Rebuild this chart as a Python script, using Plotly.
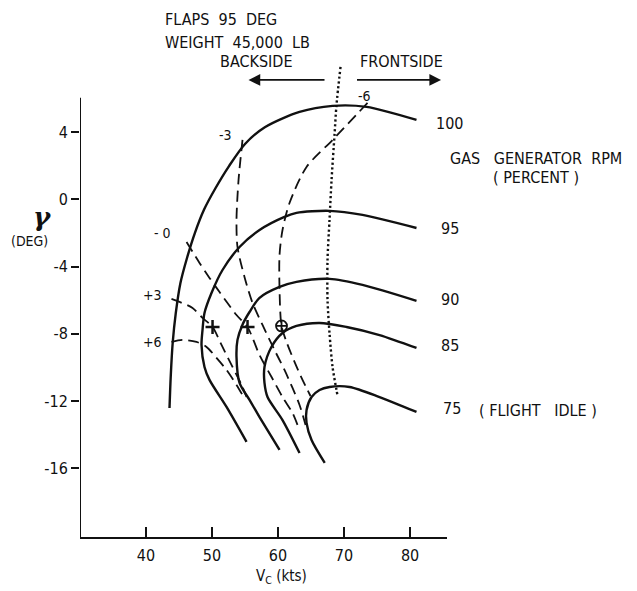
import plotly.graph_objects as go

# ---- data (Vc in kts, gamma in deg) ----
rpm100_v = [43.56, 43.75, 44.05, 44.5, 45.2, 46.2, 47.4, 48.8, 50.5, 52.6, 55.0, 58.0, 63.26, 68.26, 73.41, 80.98]
rpm100_g = [-12.41, -10.5, -8.5, -6.8, -5.0, -3.5, -2.0, -0.6, 0.65, 2.0, 3.3, 4.3, 5.21, 5.57, 5.51, 4.73]

rpm95_v = [55.23, 52.2, 49.62, 48.86, 48.41, 48.56, 48.86, 49.92, 51.59, 54.17, 57.2, 60.98, 62.8, 67.8, 72.8, 80.98]
rpm95_g = [-14.43, -12.35, -10.74, -9.97, -8.66, -7.77, -6.76, -5.57, -4.2, -2.83, -1.82, -1.04, -0.8, -0.68, -0.92, -1.7]

rpm90_v = [60.23, 57.2, 55.68, 54.17, 53.71, 53.86, 54.6, 55.68, 57.2, 60.23, 62.8, 67.8, 72.8, 80.98]
rpm90_g = [-14.91, -12.95, -11.93, -10.92, -9.38, -8.36, -7.47, -6.7, -5.86, -5.21, -4.91, -4.73, -5.09, -6.04]

rpm85_v = [63.26, 60.68, 58.41, 57.95, 57.95, 59.0, 60.68, 62.8, 66.29, 70.38, 75.38, 80.98]
rpm85_g = [-15.09, -13.13, -11.76, -10.92, -9.97, -8.78, -7.95, -7.53, -7.35, -7.59, -8.07, -8.84]

rpm75_v = [67.08, 65.08, 64.32, 64.32, 65.08, 66.29, 67.8, 70.83, 75.38, 80.98]
rpm75_g = [-15.68, -14.32, -13.3, -12.53, -11.76, -11.34, -11.16, -11.16, -11.76, -12.65]

boundary_v = [69.47, 68.86, 68.56, 68.11, 67.8, 67.5, 67.5, 67.8, 68.26, 68.86, 69.0]
boundary_g = [7.89, 5.63, 3.84, 1.16, -1.22, -3.6, -5.98, -7.95, -9.97, -11.34, -11.64]

dm6_v = [73.56, 68.26, 64.32, 61.74, 60.68, 60.23, 60.23, 60.53, 61.29, 62.5, 63.71, 64.92]
dm6_g = [5.74, 3.54, 1.93, -0.21, -1.82, -3.30, -5.39, -7.53, -8.48, -9.67, -10.74, -11.70]

dm3_v = [54.62, 54.02, 53.71, 53.86, 54.92, 56.14, 57.65, 59.47, 60.98, 62.2, 63.26, 64.17]
dm3_g = [3.54, 1.16, -1.22, -2.83, -4.61, -6.16, -7.47, -8.96, -10.15, -11.22, -12.23, -13.42]

d0_v = [46.14, 48.11, 49.62, 51.14, 53.71, 55.38, 57.2, 59.02, 60.68, 62.2, 62.95]
d0_g = [-2.53, -3.78, -4.67, -5.51, -6.88, -7.6, -9.26, -10.57, -11.76, -12.71, -13.42]

dp3_v = [43.86, 45.08, 47.05, 48.56, 50.08, 51.44, 52.95, 54.47, 55.23]
dp3_g = [-5.92, -6.10, -6.46, -7.05, -7.59, -8.66, -9.85, -11.04, -11.76]

dp6_v = [43.86, 45.53, 47.65, 49.17, 50.68, 52.2, 53.71, 54.62]
dp6_g = [-8.48, -8.36, -8.48, -8.78, -9.43, -10.15, -11.04, -11.64]

plus_v = [50.08, 55.38]
plus_g = [-7.59, -7.59]
oplus_v = [60.53]
oplus_g = [-7.53]

x_ticks = [40, 50, 60, 70, 80]
y_ticks = [4, 0, -4, -8, -12, -16]
y_tick_text = ["4", "0", "-4", "-8", "-12", "-16"]

FONT = "Liberation Sans Narrow, DejaVu Sans Condensed, Arial Narrow, sans-serif"
BLACK = "#111111"
SP = "\u00a0"

# page body has an 8px margin; compensate so the plot area lands where the reference has it
W, H = 629, 583
ML, MT = 72, 57
PX0, PX1, PY0, PY1 = 80, 447, 65, 537   # plot area in the reference, pixels


def P(px, py):
    return (px - PX0) / (PX1 - PX0), (PY1 - py) / (PY1 - PY0)


fig = go.Figure()

for v, g in [(rpm100_v, rpm100_g), (rpm95_v, rpm95_g), (rpm90_v, rpm90_g),
             (rpm85_v, rpm85_g), (rpm75_v, rpm75_g)]:
    fig.add_trace(go.Scatter(x=v, y=g, mode="lines",
                             line=dict(color=BLACK, width=2.4, shape="spline", smoothing=0.8),
                             showlegend=False, hoverinfo="skip"))

for v, g in [(dm6_v, dm6_g), (dm3_v, dm3_g), (d0_v, d0_g), (dp3_v, dp3_g), (dp6_v, dp6_g)]:
    fig.add_trace(go.Scatter(x=v, y=g, mode="lines",
                             line=dict(color=BLACK, width=1.8, dash="11px,6px", shape="spline", smoothing=0.8),
                             showlegend=False, hoverinfo="skip"))

fig.add_trace(go.Scatter(x=boundary_v, y=boundary_g, mode="lines",
                         line=dict(color=BLACK, width=2.4, dash="2.2px,2.6px", shape="spline", smoothing=0.8),
                         showlegend=False, hoverinfo="skip"))

fig.add_trace(go.Scatter(x=plus_v, y=plus_g, mode="markers",
                         marker=dict(symbol="cross-thin-open", size=10, color=BLACK,
                                     line=dict(color=BLACK, width=2.5)),
                         showlegend=False, hoverinfo="skip", cliponaxis=False))
fig.add_trace(go.Scatter(x=oplus_v, y=oplus_g, mode="markers",
                         marker=dict(symbol="circle-cross-open", size=11, color=BLACK,
                                     line=dict(color=BLACK, width=1.8)),
                         showlegend=False, hoverinfo="skip", cliponaxis=False))

X0, X1 = 30, 85.6
Y0, Y1 = -20.09, 8.0

# left axis line (stops at the top of the tick span)
fig.add_shape(type="line", x0=X0, x1=X0, y0=Y0, y1=6.05, xref="x", yref="y",
              line=dict(color=BLACK, width=2))

ann = []


def txt(px, py, s, size=16, xanchor="center", family=FONT):
    x, y = P(px, py)
    ann.append(dict(x=x, y=y, xref="paper", yref="paper", text=s, showarrow=False, xanchor=xanchor,
                    yanchor="middle", font=dict(family=family, size=size, color=BLACK)))


txt(163, 20, f"FLAPS{SP}{SP}95{SP}{SP}DEG", xanchor="left")
txt(163, 42, f"WEIGHT{SP}{SP}45,000{SP}{SP}LB", xanchor="left")
txt(256, 62, "BACKSIDE")
txt(401, 62, "FRONTSIDE")
txt(364, 96, "-6", size=14)
txt(225, 135, "-3", size=14)
txt(162, 233, f"-{SP}0", size=14)
txt(152, 295, "+3", size=14)
txt(152, 342, "+6", size=14)
txt(434, 123, "100", xanchor="left")
txt(439, 229, "95", xanchor="left")
txt(439, 299, "90", xanchor="left")
txt(439, 345, "85", xanchor="left")
txt(441, 408, "75", xanchor="left")
txt(477, 410, f"({SP}FLIGHT{SP}{SP}{SP}IDLE{SP})", xanchor="left")
txt(536, 158, f"GAS{SP}{SP}{SP}GENERATOR{SP}{SP}RPM")
txt(536, 177, f"({SP}PERCENT{SP})")
txt(42, 217, "<b><i>γ</i></b>", size=26, family="DejaVu Serif, serif")
txt(30, 241, "(DEG)", size=14)
txt(281, 576, "V<sub>C</sub> (kts)", size=15)

# arrows BACKSIDE / FRONTSIDE
ann.append(dict(x=55.53, y=7.11, xref="x", yref="y", ax=67.27, ay=7.11, axref="x", ayref="y",
                text="", showarrow=True, arrowhead=2, arrowsize=1.3, arrowwidth=1.8, arrowcolor=BLACK))
ann.append(dict(x=84.7, y=7.11, xref="x", yref="y", ax=71.74, ay=7.11, axref="x", ayref="y",
                text="", showarrow=True, arrowhead=2, arrowsize=1.3, arrowwidth=1.8, arrowcolor=BLACK))

fig.update_layout(
    width=W, height=H,
    margin=dict(l=ML, r=W - ML - (PX1 - PX0), t=MT, b=H - MT - (PY1 - PY0)),
    paper_bgcolor="white", plot_bgcolor="white",
    annotations=ann,
    showlegend=False,
    font=dict(family=FONT, size=15, color=BLACK),
)
fig.update_xaxes(range=[X0, X1], tickvals=x_ticks, ticks="inside", ticklen=10, tickwidth=2,
                 tickcolor=BLACK, showline=True, linecolor=BLACK, linewidth=2, showgrid=False,
                 zeroline=False, tickfont=dict(family=FONT, size=16), ticklabelstandoff=3)
fig.update_yaxes(range=[Y0, Y1], tickvals=y_ticks, ticktext=y_tick_text, ticks="outside", ticklen=8,
                 tickwidth=2, tickcolor=BLACK, showline=False, showgrid=False, zeroline=False,
                 tickfont=dict(family=FONT, size=16))

fig.write_html("out.html")
